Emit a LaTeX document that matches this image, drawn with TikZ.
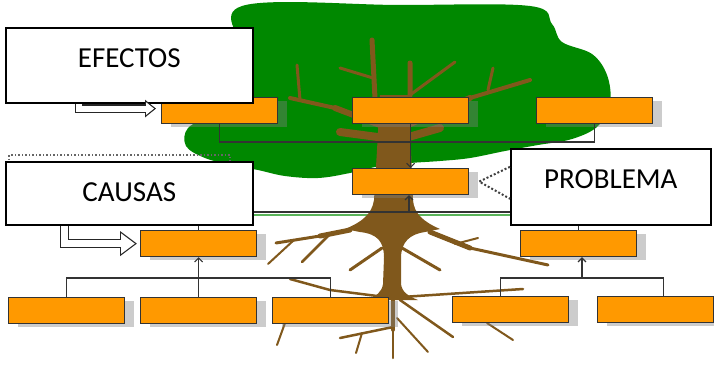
\documentclass[tikz,border=0pt]{standalone}
\usepackage{fontspec}
\setmainfont{Carlito}
\usetikzlibrary{arrows.meta,shadows}
\definecolor{leaf}{RGB}{0,136,0}
\definecolor{bark}{RGB}{128,88,28}
\definecolor{amber}{RGB}{255,153,0}
\definecolor{ground}{RGB}{90,180,90}

\begin{document}
\begin{tikzpicture}[x=1pt, y=-1pt,
    bar/.style={draw=black!80, line width=1.2pt, fill=amber, inner sep=0pt,
      minimum width=116pt, minimum height=26pt, anchor=north west,
      drop shadow={shadow xshift=9pt, shadow yshift=-3pt, opacity=0.4}},
    tag/.style={draw, line width=1.6pt, fill=white, inner sep=0pt, anchor=north west,
      text height=40pt, font=\fontsize{29}{34}\selectfont},
    link/.style={draw=black!80, line width=1.1pt},
    up/.style={link, -{Straight Barb[length=4pt,width=8pt]}},
    hollowsmall/.style={draw=black!85, line width=8.4pt, -{Triangle[length=11pt,width=17pt]},
      postaction={draw=white, line width=6pt, shorten >=2pt, -{Triangle[length=7.8pt,width=12pt]}}},
    hollowbig/.style={draw=black!85, line width=9.4pt, -{Triangle[length=17pt,width=24pt]},
      postaction={draw=white, line width=7pt, shorten >=2.1pt, -{Triangle[length=13.7pt,width=19.4pt]}}},
    root/.style={bark, line width=#1, line cap=round}]
    \useasboundingbox (0,0) rectangle (714,364);

    % tree
    \draw[ground, line width=2pt] (200,215) -- (600,215);
    \fill[leaf] plot[smooth cycle, tension=0.6] coordinates {(242,6) (400,5) (530,6)
      (552,24) (562,42) (592,54) (607,75) (610,102) (598,126) (572,139) (538,145)
      (505,151) (470,158) (440,161) (410,163) (380,166) (350,173) (318,178) (285,176)
      (258,170) (232,165) (205,158) (186,146) (188,128) (212,116) (240,106) (244,55)};
    \fill[bark] (380,95) -- (377,150) -- (374,200) .. controls (372,214) and (362,222)
      .. (345,229) -- (360,232) .. controls (378,234) and (384,242) .. (384,258)
      -- (383,284) .. controls (382,292) and (376,296) .. (368,300) -- (418,300)
      .. controls (408,296) and (402,292) .. (401,284) -- (401,258)
      .. controls (401,242) and (410,234) .. (425,232) -- (440,229)
      .. controls (424,222) and (414,214) .. (413,200) -- (411,150) -- (409,95) -- cycle;
    \draw[root=6pt] (380,125) -- (335,108);
    \draw[root=4pt] (335,108) -- (290,98);
    \draw[root=3pt] (300,100) -- (297,65);
    \draw[root=5pt] (376,118) -- (372,40);
    \draw[root=3pt] (373,78) -- (340,68);
    \draw[root=5pt] (405,118) -- (410,95) -- (410,63);
    \draw[root=3pt] (410,95) -- (455,62);
    \draw[root=6pt] (408,125) -- (470,98);
    \draw[root=4pt] (470,98) -- (530,80);
    \draw[root=3pt] (488,90) -- (493,68);
    \draw[root=8pt] (385,138) -- (340,132);
    \draw[root=8pt] (405,138) -- (440,128);
    \draw[root=5pt] (350,230) -- (320,236);
    \draw[root=3pt] (320,236) -- (276,243);
    \draw[root=2.5pt] (330,234) -- (302,262);
    \draw[root=2pt] (294,240) -- (268,264);
    \draw[root=3pt] (382,248) -- (350,270);
    \draw[root=5pt] (430,232) -- (470,248);
    \draw[root=3pt] (470,248) -- (548,265);
    \draw[root=2pt] (455,244) -- (478,238);
    \draw[root=3pt] (402,248) -- (440,270);
    \draw[root=2.5pt] (385,297) -- (330,290) -- (290,279);
    \draw[root=2.5pt] (402,297) -- (523,289);
    \draw[root=3.5pt] (393,298) -- (393,330);
    \draw[root=2.5pt] (393,330) -- (393,358);
    \draw[root=2.5pt] (393,327) -- (340,338);
    \draw[root=2pt] (362,333) -- (356,353);
    \draw[root=2.5pt] (400,300) -- (453,337);
    \draw[root=2pt] (397,318) -- (428,352);
    \draw[root=2pt] (285,323) -- (277,345);
    \draw[root=2pt] (487,323) -- (513,340);

    \node[bar] (e1) at (161,97) {};
    \node[bar] (e2) at (352,97) {};
    \node[bar] (e3) at (536,97) {};
    \node[bar] (p) at (352,168) {};
    \node[bar] (c1) at (140,230) {};
    \node[bar] (c2) at (520,230) {};
    \node[bar] (c11) at (8,297) {};
    \node[bar] (c12) at (140,297) {};
    \node[bar] (c13) at (272,297) {};
    \node[bar] (c21) at (452,296) {};
    \node[bar] (c22) at (597,296) {};

    \coordinate (j1) at (409,142);
    \coordinate (g) at (409,212);
    \coordinate (k2) at (582,278);
    \draw[link] (e1) |- (j1) -| (e3);
    \draw[up] (e2) -- (p);
    \draw[link] (c1) |- (g) -| (c2);
    \draw[up] (g) -- (g |- p.south);
    \draw[link] (c11.north) -- ++(0,-19) -| (c13.north);
    \draw[up] (c12) -- (c1);
    \draw[link] ([xshift=-10pt]c21.north) -- ++(0,-18) -| ([xshift=8pt]c22.north);
    \draw[up] (k2) -- (k2 |- c2.south);

    \draw[black!60, dotted, line width=1.5pt] (9,155) rectangle (230,200);
    \node[tag, minimum width=247pt, text depth=35pt] (efectos) at (5,27) {EFECTOS};
    \node[tag, minimum width=247pt, text depth=23pt] (causas) at (5,161) {CAUSAS};
    \node[tag, minimum width=200pt, text depth=36pt] (problema) at (510,148) {PROBLEMA};

    \draw[hollowsmall] ([xshift=-50pt,yshift=-0.8pt]efectos.south) |- ([xshift=-5pt,yshift=2pt]e1.west);
    \draw[hollowbig] ([xshift=-65pt,yshift=-0.8pt]causas.south) |- ([xshift=-3pt]c1.west);
    \draw[black!75, dotted, line width=2pt] ([yshift=20pt]problema.west)
      -- ([xshift=10pt]p.east) -- ([yshift=-12pt]problema.west);
\end{tikzpicture}
\end{document}
